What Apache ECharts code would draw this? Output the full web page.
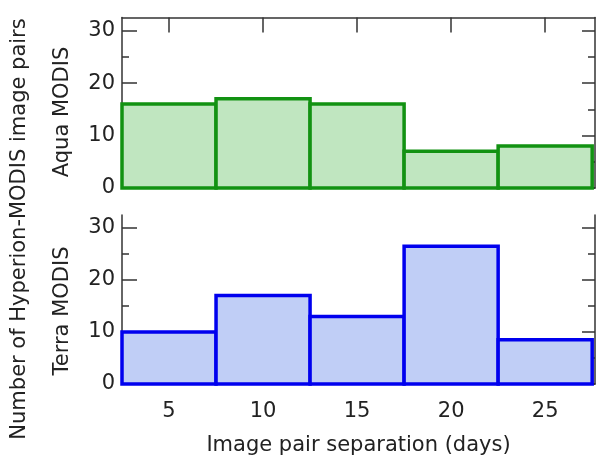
<!DOCTYPE html>
<html>
<head>
<meta charset="utf-8">
<script src="https://cdn.jsdelivr.net/npm/echarts@6/dist/echarts.min.js"></script>
<style>
  html, body { margin: 0; padding: 0; background: #fff; }
  #chart { width: 597px; height: 457px; }
</style>
</head>
<body>
<div id="chart"></div>
<script>
// histogram bins (days) and counts per satellite
const binCenters = [5, 10, 15, 20, 25];
const binWidth = 5;
const aquaCounts = [16, 17, 16, 7, 8];
const terraCounts = [10, 17, 13, 26.5, 8.5];
const xTicks = [5, 10, 15, 20, 25];
const yMajorTicks = [0, 10, 20, 30];
const yMinorTicks = [5, 15, 25];

const FONT = "DejaVu Sans";
const AXIS_COLOR = "#333";

const pairs = counts => binCenters.map((c, i) => [c, counts[i]]);

const histItem = (fill, stroke) => (params, api) => {
  const x = api.value(0);
  const v = api.value(1);
  const p0 = api.coord([x - binWidth / 2, v]);
  const p1 = api.coord([x + binWidth / 2, 0]);
  return {
    type: "rect",
    shape: { x: p0[0], y: p0[1], width: p1[0] - p0[0], height: p1[1] - p0[1] },
    style: { fill: fill, stroke: stroke, lineWidth: 3.5 }
  };
};

const xBase = {
  type: "value",
  min: 2.5,
  max: 27.65,
  splitLine: { show: false },
  axisLine: { show: true, onZero: false, lineStyle: { color: AXIS_COLOR, width: 1.5 } },
  axisTick: { show: false },
  axisLabel: { show: false }
};

const yAxesFor = grid => {
  const base = {
    type: "value",
    gridIndex: grid,
    min: 0,
    max: 32.5,
    splitLine: { show: false },
    axisLabel: { show: false }
  };
  return [
    Object.assign({}, base, {
      position: "left",
      axisLine: { show: true, lineStyle: { color: AXIS_COLOR, width: 1.5 } },
      axisTick: { show: true, inside: true, length: 15, customValues: yMajorTicks, lineStyle: { color: AXIS_COLOR, width: 1.5 } },
      axisLabel: { show: true, customValues: yMajorTicks, margin: 7, color: "#222", fontSize: 21, fontFamily: FONT }
    }),
    Object.assign({}, base, {
      position: "left",
      axisLine: { show: false },
      axisTick: { show: true, inside: true, length: 7, customValues: yMinorTicks, lineStyle: { color: AXIS_COLOR, width: 1.5 } }
    }),
    Object.assign({}, base, {
      position: "right",
      axisLine: { show: true, lineStyle: { color: AXIS_COLOR, width: 1.5 } },
      axisTick: { show: true, inside: true, length: 13, customValues: yMajorTicks, lineStyle: { color: AXIS_COLOR, width: 1.5 } }
    }),
    Object.assign({}, base, {
      position: "right",
      axisLine: { show: false },
      axisTick: { show: true, inside: true, length: 7, customValues: yMinorTicks, lineStyle: { color: AXIS_COLOR, width: 1.5 } }
    })
  ];
};

const option = {
  animation: false,
  backgroundColor: "#fff",
  grid: [
    { left: 122, right: 2, top: 17.5, height: 170.5 },
    { left: 122, right: 2, top: 215, height: 170.5 }
  ],
  xAxis: [
    Object.assign({}, xBase, { gridIndex: 0, position: "bottom" }),
    Object.assign({}, xBase, {
      gridIndex: 0,
      position: "top",
      axisTick: { show: true, inside: true, length: 15, customValues: xTicks, lineStyle: { color: AXIS_COLOR, width: 1.5 } }
    }),
    Object.assign({}, xBase, {
      gridIndex: 1,
      position: "bottom",
      axisLabel: { show: true, customValues: xTicks, margin: 17, color: "#222", fontSize: 21, fontFamily: FONT },
      name: "Image pair separation (days)",
      nameLocation: "middle",
      nameGap: 51,
      nameTextStyle: { color: "#222", fontSize: 21, fontFamily: FONT }
    })
  ],
  yAxis: yAxesFor(0).concat(yAxesFor(1)),
  graphic: [
    {
      type: "text", x: 20, y: 229, rotation: Math.PI / 2,
      style: { text: "Number of Hyperion-MODIS image pairs", fill: "#222", font: "21px " + FONT, align: "center", verticalAlign: "middle" }
    },
    {
      type: "text", x: 63, y: 112, rotation: Math.PI / 2,
      style: { text: "Aqua MODIS", fill: "#222", font: "21px " + FONT, align: "center", verticalAlign: "middle" }
    },
    {
      type: "text", x: 63, y: 311, rotation: Math.PI / 2,
      style: { text: "Terra MODIS", fill: "#222", font: "21px " + FONT, align: "center", verticalAlign: "middle" }
    }
  ],
  series: [
    {
      name: "Aqua MODIS",
      type: "custom",
      xAxisIndex: 0,
      yAxisIndex: 0,
      renderItem: histItem("#c0e6c0", "#129212"),
      encode: { x: 0, y: 1 },
      data: pairs(aquaCounts)
    },
    {
      name: "Terra MODIS",
      type: "custom",
      xAxisIndex: 2,
      yAxisIndex: 4,
      renderItem: histItem("#c0cef6", "#0000ee"),
      encode: { x: 0, y: 1 },
      data: pairs(terraCounts)
    }
  ]
};

const chart = echarts.init(document.getElementById("chart"));
chart.setOption(option);
</script>
</body>
</html>
